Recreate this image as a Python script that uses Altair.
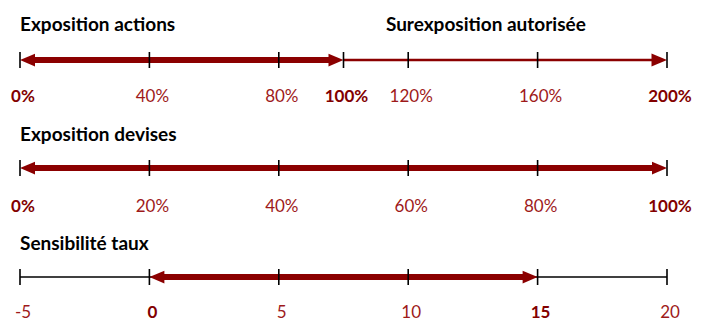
import altair as alt
import pandas as pd

# ---- data ----
actions_ticks = [0, 40, 80, 100, 120, 160, 200]
actions_labels = ["0%", "40%", "80%", "100%", "120%", "160%", "200%"]
actions_bold = [True, False, False, True, False, False, True]
actions_seg_start = [0, 100]
actions_seg_end = [100, 200]
actions_seg_kind = ["double", "single"]
actions_titles = ["Exposition actions", "Surexposition autorisée"]
actions_title_pos = [0, 144]
actions_title_align = ["left", "center"]

devises_ticks = [0, 20, 40, 60, 80, 100]
devises_labels = ["0%", "20%", "40%", "60%", "80%", "100%"]
devises_bold = [True, False, False, False, False, True]
devises_seg_start = [0]
devises_seg_end = [100]
devises_seg_kind = ["double"]
devises_titles = ["Exposition devises"]
devises_title_pos = [0]
devises_title_align = ["left"]

taux_ticks = [-5, 0, 5, 10, 15, 20]
taux_labels = ["-5", "0", "5", "10", "15", "20"]
taux_bold = [False, True, False, False, True, False]
taux_seg_start = [-5, 0]
taux_seg_end = [20, 15]
taux_seg_kind = ["plain", "double"]
taux_titles = ["Sensibilité taux"]
taux_title_pos = [-5]
taux_title_align = ["left"]

RED = "#8B0000"
LABEL_RED = "#9E1A1A"
BOLD_RED = "#820000"
FONT = "Lato"
RIGHT_HEAD = "M0,0 L-2,-0.85 L-2,0.85 Z"
LEFT_HEAD = "M0,0 L2,-0.85 L2,0.85 Z"


def panel(domain, ticks, labels, bold, s_start, s_end, s_kind,
          titles, t_pos, t_align, title_y, line_y, label_y):
    sc = alt.Scale(domain=domain, nice=False, zero=False)
    X = lambda f: alt.X(f, type="quantitative", scale=sc, axis=None)
    X2 = lambda f: alt.X2(f)
    tick_df = pd.DataFrame({"v": ticks, "label": labels, "bold": bold})
    seg_df = pd.DataFrame({"s": s_start, "e": s_end, "kind": s_kind})
    layers = []
    plain = seg_df[seg_df.kind == "plain"]
    if len(plain):
        layers.append(alt.Chart(plain).mark_rule(color="black", strokeWidth=1.6)
                      .encode(x=X("s"), x2=X2("e"), y=alt.value(line_y)))
    single = seg_df[seg_df.kind == "single"]
    if len(single):
        layers.append(alt.Chart(single).mark_rule(color=RED, strokeWidth=2.5, x2Offset=-12)
                      .encode(x=X("s"), x2=X2("e"), y=alt.value(line_y)))
        layers.append(alt.Chart(single).mark_point(shape=RIGHT_HEAD, size=240, filled=True,
                                                   color=RED, opacity=1, strokeWidth=0)
                      .encode(x=X("e"), y=alt.value(line_y)))
    double = seg_df[seg_df.kind == "double"]
    if len(double):
        layers.append(alt.Chart(double).mark_rule(color=RED, strokeWidth=6, xOffset=12, x2Offset=-12)
                      .encode(x=X("s"), x2=X2("e"), y=alt.value(line_y)))
        layers.append(alt.Chart(double).mark_point(shape=RIGHT_HEAD, size=225, filled=True,
                                                   color=RED, opacity=1, strokeWidth=0)
                      .encode(x=X("e"), y=alt.value(line_y)))
        layers.append(alt.Chart(double).mark_point(shape=LEFT_HEAD, size=225, filled=True,
                                                   color=RED, opacity=1, strokeWidth=0)
                      .encode(x=X("s"), y=alt.value(line_y)))
    layers.append(alt.Chart(tick_df).mark_rule(color="black", strokeWidth=1.6)
                  .encode(x=X("v"), y=alt.value(line_y - 8), y2=alt.value(line_y + 8)))
    layers.append(alt.Chart(tick_df[~tick_df.bold]).mark_text(font=FONT, fontSize=17, color=LABEL_RED,
                                                              baseline="middle", dx=3)
                  .encode(x=X("v"), y=alt.value(label_y), text="label:N"))
    layers.append(alt.Chart(tick_df[tick_df.bold]).mark_text(font=FONT, fontSize=17, fontWeight="bold",
                                                             color=BOLD_RED, baseline="middle", dx=3)
                  .encode(x=X("v"), y=alt.value(label_y), text="label:N"))
    for t, p, a in zip(titles, t_pos, t_align):
        tdf = pd.DataFrame({"t": [t], "p": [p]})
        layers.append(alt.Chart(tdf).mark_text(font=FONT, fontSize=19, fontWeight="bold",
                                               color="black", align=a, baseline="middle")
                      .encode(x=X("p"), y=alt.value(title_y), text="t:N"))
    return alt.layer(*layers)


p1 = panel([0, 200], actions_ticks, actions_labels, actions_bold,
           actions_seg_start, actions_seg_end, actions_seg_kind,
           actions_titles, actions_title_pos, actions_title_align, 17, 52, 89)
p2 = panel([0, 100], devises_ticks, devises_labels, devises_bold,
           devises_seg_start, devises_seg_end, devises_seg_kind,
           devises_titles, devises_title_pos, devises_title_align, 127, 160, 199)
p3 = panel([-5, 20], taux_ticks, taux_labels, taux_bold,
           taux_seg_start, taux_seg_end, taux_seg_kind,
           taux_titles, taux_title_pos, taux_title_align, 236, 269, 305)

chart = alt.layer(p1, p2, p3).resolve_scale(x="independent").properties(
    width=647, height=302,
    autosize=alt.AutoSizeParams(type="none"),
    padding={"left": 12, "top": 0, "right": 26, "bottom": 8},
    background="white",
).configure_view(stroke=None)

chart.save("out.html", embed_options={"renderer": "svg", "actions": False})
